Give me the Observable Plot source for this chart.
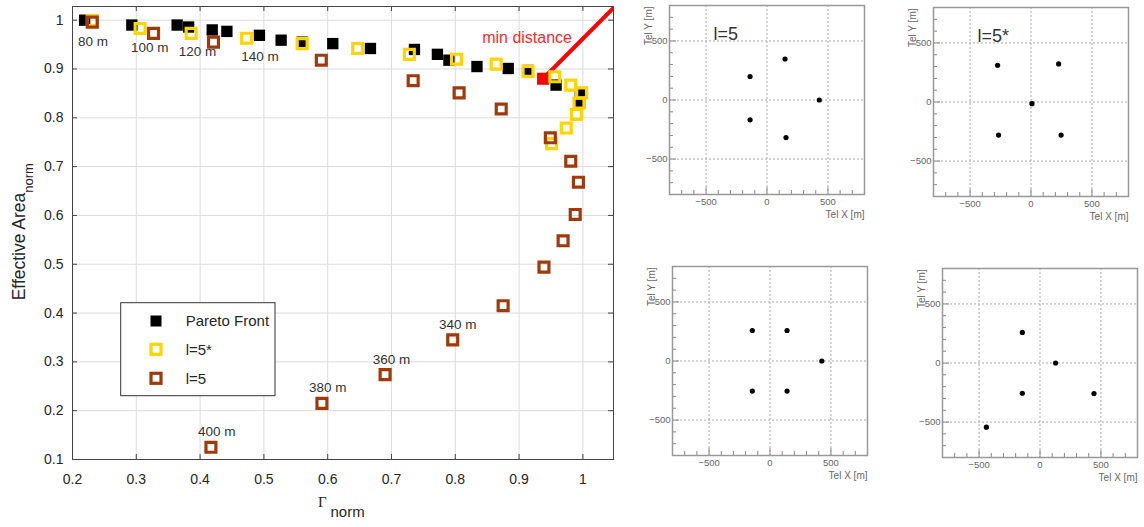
<!DOCTYPE html>
<html>
<head>
<meta charset="utf-8">
<script src="https://cdn.jsdelivr.net/npm/d3@7"></script>
<script src="https://cdn.jsdelivr.net/npm/@observablehq/plot@0.6"></script>
<style>
  html, body { margin: 0; padding: 0; background: #fff; }
  #page { position: relative; width: 1144px; height: 527px; overflow: hidden; background: #fff; }
  .abs { position: absolute; }
</style>
</head>
<body>
<div id="page"></div>
<script>
// ---------- data: main chart ----------
const xTicks = [0.2, 0.3, 0.4, 0.5, 0.6, 0.7, 0.8, 0.9, 1];
const yTicks = [0.1, 0.2, 0.3, 0.4, 0.5, 0.6, 0.7, 0.8, 0.9, 1];

const paretoGamma = [0.219, 0.293, 0.364, 0.382, 0.419, 0.442, 0.493, 0.527, 0.560, 0.608, 0.667, 0.736, 0.772, 0.790, 0.834, 0.883, 0.914, 0.958, 0.996, 0.995];
const paretoArea  = [1.000, 0.990, 0.990, 0.986, 0.980, 0.977, 0.969, 0.959, 0.955, 0.952, 0.942, 0.940, 0.930, 0.918, 0.905, 0.901, 0.897, 0.867, 0.851, 0.831];

const minGamma = [0.9375];
const minArea  = [0.880];
const minLineGamma = [0.9375, 1.048];
const minLineArea  = [0.880, 1.025];

const l5starGamma = [0.231, 0.306, 0.386, 0.473, 0.560, 0.647, 0.728, 0.802, 0.864, 0.914, 0.956, 0.981, 0.998, 0.994, 0.990, 0.974, 0.951];
const l5starArea  = [0.999, 0.983, 0.973, 0.963, 0.952, 0.942, 0.930, 0.920, 0.910, 0.895, 0.884, 0.867, 0.851, 0.830, 0.807, 0.779, 0.747];

const l5Gamma = [0.231, 0.327, 0.421, 0.590, 0.734, 0.806, 0.872, 0.949, 0.981, 0.993, 0.988, 0.969, 0.939, 0.875, 0.796, 0.690, 0.591, 0.417];
const l5Area  = [0.996, 0.973, 0.955, 0.918, 0.876, 0.851, 0.818, 0.759, 0.711, 0.668, 0.602, 0.548, 0.494, 0.415, 0.345, 0.274, 0.215, 0.125];

const labelText  = ["80 m", "100 m", "120 m", "140 m", "340 m", "360 m", "380 m", "400 m"];
const labelGamma = [0.232, 0.321, 0.396, 0.494, 0.804, 0.700, 0.600, 0.426];
const labelArea  = [0.956, 0.944, 0.935, 0.925, 0.377, 0.305, 0.248, 0.158];

const legendNames = ["Pareto Front", "l=5*", "l=5"];

// ---------- data: telescope layouts ----------
const panelTicks = [-500, 0, 500];
const panelMinor = [-700, -600, -400, -300, -200, -100, 100, 200, 300, 400, 600, 700];
const layoutA_X = [-139, 148, 429, -139, 156];
const layoutA_Y = [199, 347, 0, -168, -318];
const layoutB_X = [-274, 227, 8, -266, 247];
const layoutB_Y = [311, 322, -14, -280, -280];
const layoutC_X = [-145, 140, 425, -145, 140];
const layoutC_Y = [258, 258, 0, -255, -255];
const layoutD_X = [-145, 128, -145, 443, -440];
const layoutD_Y = [259, 0, -256, -259, -543];

// ---------- helpers ----------
const zip = (xs, ys) => xs.map((x, i) => ({x, y: ys[i]}));
const FONT = "'Liberation Sans', Arial, Helvetica, sans-serif";
const YELLOW = "#ffd500";
const BROWN = "#a13a0a";
const fmt = d3.format("~g");
const page = document.getElementById("page");

function place(node, left, top) {
  const div = document.createElement("div");
  div.className = "abs";
  div.style.left = left + "px";
  div.style.top = top + "px";
  div.appendChild(node);
  page.appendChild(div);
}

// ---------- main chart ----------
const W = 620, H = 527, mL = 72, mR = 7, mT = 6, mB = 68;
const fw = W - mL - mR, fh = H - mT - mB;

const main = Plot.plot({
  width: W, height: H,
  marginLeft: mL, marginRight: mR, marginTop: mT, marginBottom: mB,
  style: {fontFamily: FONT, fontSize: "14px", color: "#262626", background: "transparent"},
  x: {domain: [0.2, 1.048], label: null},
  y: {domain: [0.1, 1.028], label: null},
  marks: [
    Plot.gridX(xTicks, {stroke: "#dcdcdc", strokeOpacity: 1}),
    Plot.gridY(yTicks, {stroke: "#dcdcdc", strokeOpacity: 1}),
    Plot.axisX(xTicks, {tickSize: 0, tickPadding: 15, tickFormat: fmt, fontSize: 14, label: null}),
    Plot.axisY(yTicks, {tickSize: 0, tickPadding: 9, tickFormat: fmt, fontSize: 14, label: null}),
    Plot.tickX(xTicks, {x: d => d, stroke: "#444", insetTop: fh - 5}),
    Plot.tickX(xTicks, {x: d => d, stroke: "#444", insetBottom: fh - 5}),
    Plot.tickY(yTicks, {y: d => d, stroke: "#444", insetRight: fw - 5}),
    Plot.tickY(yTicks, {y: d => d, stroke: "#444", insetLeft: fw - 5}),
    Plot.line(zip(minLineGamma, minLineArea), {x: "x", y: "y", stroke: "#ff0000", strokeWidth: 4, clip: true}),
    Plot.dot(zip(paretoGamma, paretoArea), {x: "x", y: "y", symbol: "square", r: 6.4, fill: "#000", stroke: "none"}),
    Plot.dot(zip(minGamma, minArea), {x: "x", y: "y", symbol: "square", r: 6.8, fill: "#ff0000", stroke: "none"}),
    Plot.dot(zip(l5starGamma, l5starArea), {x: "x", y: "y", symbol: "square", r: 5.6, fill: "none", stroke: YELLOW, strokeWidth: 3.2}),
    Plot.dot(zip(l5Gamma, l5Area), {x: "x", y: "y", symbol: "square", r: 5.6, fill: "none", stroke: BROWN, strokeWidth: 3.2}),
    Plot.text(labelText.map((t, i) => ({t, x: labelGamma[i], y: labelArea[i]})), {x: "x", y: "y", text: "t", fontSize: 13.5, fill: "#333"}),
    Plot.text(["min distance"], {x: 0.9125, y: 0.963, text: d => d, fill: "#ff2a2a", fontSize: 16}),
    Plot.frame({stroke: "#444"})
  ]
});

// axis titles and legend (real text) added with d3
{
  const svg = d3.select(main);
  const yl = svg.append("text")
    .attr("transform", "translate(25,231.7) rotate(-90)")
    .attr("text-anchor", "middle")
    .attr("font-family", FONT)
    .attr("font-size", 17.5)
    .attr("fill", "#262626");
  yl.append("tspan").text("Effective Area");
  yl.append("tspan").attr("font-size", 13).attr("dy", 8).text("norm");

  const xl = svg.append("g").attr("fill", "#262626");
  xl.append("text").attr("x", 318).attr("y", 506.7).attr("text-anchor", "start")
    .attr("font-family", "'Liberation Serif', 'DejaVu Serif', serif").attr("font-size", 15).text("Γ");
  xl.append("text").attr("x", 330.5).attr("y", 516.7).attr("text-anchor", "start")
    .attr("font-family", FONT).attr("font-size", 15).text("norm");

  const lg = svg.append("g");
  lg.append("rect").attr("x", 120.7).attr("y", 302.7).attr("width", 154.3).attr("height", 93)
    .attr("fill", "#fff").attr("stroke", "#333").attr("stroke-width", 1);
  const rows = [321, 349.3, 378.3];
  lg.append("rect").attr("x", 156 - 5.5).attr("y", rows[0] - 5.5).attr("width", 11).attr("height", 11).attr("fill", "#000");
  lg.append("rect").attr("x", 156 - 5).attr("y", rows[1] - 5).attr("width", 10).attr("height", 10)
    .attr("fill", "none").attr("stroke", YELLOW).attr("stroke-width", 3.2);
  lg.append("rect").attr("x", 156 - 5).attr("y", rows[2] - 5).attr("width", 10).attr("height", 10)
    .attr("fill", "none").attr("stroke", BROWN).attr("stroke-width", 3.2);
  legendNames.forEach((n, i) => {
    lg.append("text").attr("x", 185.7).attr("y", rows[i]).attr("dy", "0.35em").attr("text-anchor", "start")
      .attr("font-family", FONT).attr("font-size", 15).attr("fill", "#262626").text(n);
  });
}
place(main, 0, 0);

// ---------- telescope layout panels ----------
const PW = 195, PH = 189, pL = 40, pT = 8, pR = 6, pB = 34;
function panel(xs, ys, label) {
  return Plot.plot({
    width: PW + pL + pR, height: PH + pT + pB,
    marginLeft: pL, marginRight: pR, marginTop: pT, marginBottom: pB,
    style: {fontFamily: FONT, fontSize: "9px", color: "#666", background: "transparent"},
    x: {domain: [-800, 800], label: null},
    y: {domain: [-800, 800], label: null},
    marks: [
      Plot.gridX(panelTicks, {stroke: "#aaa", strokeOpacity: 1, strokeDasharray: "2,2"}),
      Plot.gridY(panelTicks, {stroke: "#aaa", strokeOpacity: 1, strokeDasharray: "2,2"}),
      Plot.tickX(panelMinor, {x: d => d, stroke: "#888", insetTop: PH - 4}),
      Plot.tickY(panelMinor, {y: d => d, stroke: "#888", insetRight: PW - 4}),
      Plot.tickX(panelTicks, {x: d => d, stroke: "#888", insetTop: PH - 7}),
      Plot.tickY(panelTicks, {y: d => d, stroke: "#888", insetRight: PW - 7}),
      Plot.axisX(panelTicks, {tickSize: 0, tickPadding: 4, fontSize: 9.5, fill: "#666", label: null}),
      Plot.axisY(panelTicks, {tickSize: 0, tickPadding: 2, fontSize: 9.5, fill: "#666", label: null}),
      Plot.frame({stroke: "#999", strokeWidth: 1.5}),
      Plot.dot(zip(xs, ys), {x: "x", y: "y", r: 2.6, fill: "#000", stroke: "none"}),
      Plot.text(["Tel X [m]"], {frameAnchor: "bottom-right", text: d => d, dy: 16, textAnchor: "end", lineAnchor: "top", fontSize: 10, fill: "#666"}),
      Plot.text(["Tel Y [m]"], {frameAnchor: "top-left", text: d => d, rotate: -90, dx: -21, dy: 1, textAnchor: "end", lineAnchor: "middle", fontSize: 10, fill: "#666"}),
      label ? Plot.text([label], {frameAnchor: "top-left", text: d => d, dx: 44, dy: 22, textAnchor: "start", fontSize: 18, fill: "#333"}) : null
    ]
  });
}
place(panel(layoutA_X, layoutA_Y, "l=5"), 629, -3);
place(panel(layoutB_X, layoutB_Y, "l=5*"), 893, -1);
place(panel(layoutC_X, layoutC_Y, null), 632, 258);
place(panel(layoutD_X, layoutD_Y, null), 902, 260);
</script>
</body>
</html>
